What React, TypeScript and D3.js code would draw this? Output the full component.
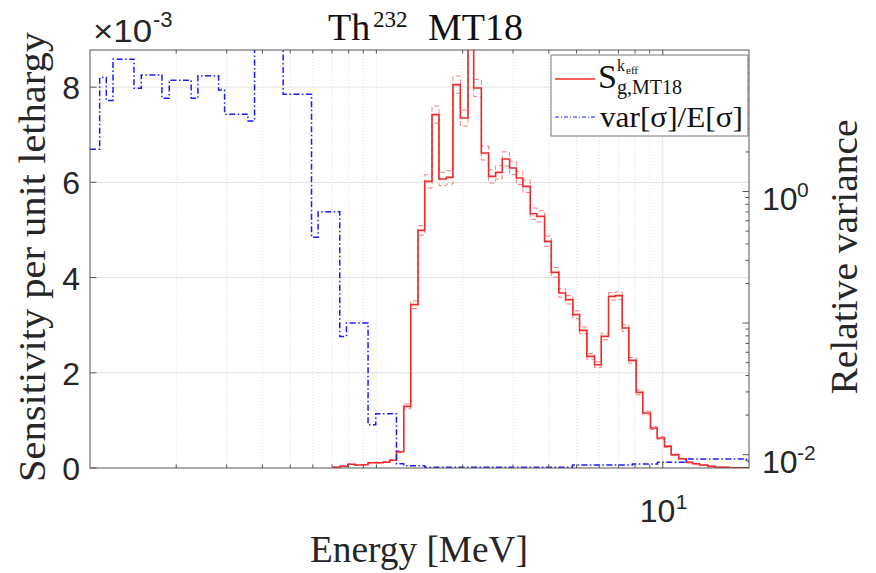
import React from 'react';
import * as d3 from 'd3';

const W = 876;
const H = 573;
const PL = 90, PT = 50, PR = 749, PB = 468;

// Axis domains
const energyDomain = [0.1, 20];            // MeV
const sensDomain = [0, 8.78];              // ×10^-3
const varDomain = [0.00792, 11.9];         // relative variance (log)

const sensTicks = [0, 2, 4, 6, 8];
const energyMajorTicks = [10];
const energyMinorTicks = [0.2, 0.3, 0.4, 0.5, 0.6, 0.7, 0.8, 0.9, 1, 2, 3, 4, 5, 6, 7, 8, 9];
const varLabelTicks = [0.01, 1];
const varLabelExps = ['-2', '0'];
const varMajorTicks = [0.01, 0.1, 1, 10];

// Sensitivity per unit lethargy (×10^-3), group edges in MeV
const sensEdges = [0.7044, 0.7449, 0.7944, 0.8403, 0.8889, 0.9351, 0.9948, 1.055, 1.113, 1.175,
  1.246, 1.318, 1.397, 1.475, 1.564, 1.654, 1.755, 1.851, 1.964, 2.088,
  2.186, 2.325, 2.465, 2.608, 2.752, 2.918, 3.080, 3.247, 3.446, 3.634,
  3.866, 4.080, 4.337, 4.577, 4.854, 5.122, 5.431, 5.777, 6.097, 6.464,
  6.839, 7.217, 7.610, 8.075, 8.514, 9.061, 9.561, 10.14, 10.70, 11.37,
  12.07, 12.72, 13.43, 14.36, 15.27, 17.09, 20];
const sensValues = [0.017, 0.038, 0.080, 0.063, 0.069, 0.111, 0.111, 0.122, 0.164, 0.342,
  1.294, 3.431, 4.992, 6.021, 7.422, 6.071, 6.105, 8.053, 7.353, 9.2,
  7.983, 6.618, 6.126, 6.210, 6.492, 6.303, 6.092, 5.916, 5.342, 5.286,
  4.761, 4.109, 3.676, 3.536, 3.221, 2.891, 2.345, 2.170, 2.765, 3.605,
  3.620, 2.941, 2.261, 1.588, 1.155, 0.840, 0.630, 0.454, 0.279, 0.195,
  0.118, 0.090, 0.063, 0.034, 0.017, 0.006];
const sensSigma = [0.004, 0.005, 0.006, 0.006, 0.006, 0.008, 0.008, 0.008, 0.01, 0.02,
  0.05, 0.08, 0.10, 0.14, 0.18, 0.14, 0.14, 0.18, 0.17, 0.2,
  0.18, 0.15, 0.14, 0.14, 0.15, 0.14, 0.14, 0.13, 0.12, 0.12,
  0.11, 0.10, 0.09, 0.09, 0.08, 0.07, 0.06, 0.06, 0.07, 0.08,
  0.08, 0.07, 0.06, 0.05, 0.04, 0.03, 0.03, 0.02, 0.015, 0.01,
  0.008, 0.006, 0.005, 0.004, 0.003, 0.002];

// Relative variance var[σ]/E[σ], group edges in MeV
const varEdges = [0.1, 0.1081, 0.1140, 0.1203, 0.1424, 0.1510, 0.1783, 0.1891, 0.2256, 0.2381,
  0.2812, 0.2951, 0.3559, 0.3755, 0.4725, 0.5935, 0.6258, 0.7449, 0.7860, 0.9351,
  0.9948, 1.175, 1.246, 1.475, 4.842, 7.840, 9.584, 12.10, 19.59, 20];
const varValues = [2.099, 7.34, 4.91, 10.13, 6.10, 7.70, 5.12, 7.02, 5.12, 7.57,
  5.92, 3.87, 3.44, 15, 5.49, 0.450, 0.701, 0.0792, 0.1001, 0.0169,
  0.0205, 0.00854, 0.00825, 0.00804, 0.00835, 0.00850, 0.00874, 0.00928, 0.00889];

const SERIF = '"Liberation Serif", "DejaVu Serif", serif';
const SANS = '"Liberation Sans", Arial, sans-serif';

function stairs(edges: number[], values: number[]): [number, number][] {
  const pts: [number, number][] = values.map((v, i) => [edges[i], v]);
  pts.push([edges[edges.length - 1], values[values.length - 1]]);
  return pts;
}

export default function App() {
  const x = d3.scaleLog().domain(energyDomain).range([PL, PR]);
  const yL = d3.scaleLinear().domain(sensDomain).range([PB, PT]);
  const yR = d3.scaleLog().domain(varDomain).range([PB, PT]);

  const lineL = d3.line<[number, number]>().x(d => x(d[0])).y(d => yL(d[1])).curve(d3.curveStepAfter);
  const lineR = d3.line<[number, number]>().x(d => x(d[0])).y(d => yR(d[1])).curve(d3.curveStepAfter);

  const sensPath = lineL(stairs(sensEdges, sensValues)) || '';
  const sensUp = lineL(stairs(sensEdges, sensValues.map((v, i) => v + sensSigma[i]))) || '';
  const sensDn = lineL(stairs(sensEdges, sensValues.map((v, i) => v - sensSigma[i]))) || '';
  const varPath = lineR(stairs(varEdges, varValues)) || '';

  const varMinor: number[] = [];
  for (let e = -3; e <= 1; e++) {
    for (let k = 2; k <= 9; k++) {
      const v = k * Math.pow(10, e);
      if (v > varDomain[0] && v < varDomain[1]) varMinor.push(v);
    }
  }

  const axisColor = '#555';
  const red = '#f02b2b';
  const blue = '#1a1aff';
  const tickFont = 32;

  return (
    <svg width={W} height={H} style={{ position: 'absolute', left: 0, top: 0, background: '#fff' }}>
      <defs>
        <clipPath id="plotclip">
          <rect x={PL} y={PT} width={PR - PL} height={PB - PT} />
        </clipPath>
      </defs>
      <rect x={0} y={0} width={W} height={H} fill="#fff" />

      {/* minor vertical grid */}
      {energyMinorTicks.map(t => (
        <line key={'gm' + t} x1={x(t)} x2={x(t)} y1={PT} y2={PB} stroke="#d9d9d9" strokeWidth={0.8} strokeDasharray="1,2" />
      ))}
      {/* major grid */}
      {energyMajorTicks.map(t => (
        <line key={'gM' + t} x1={x(t)} x2={x(t)} y1={PT} y2={PB} stroke="#e2e2e2" strokeWidth={1} />
      ))}
      {sensTicks.filter(t => t > 0).map(t => (
        <line key={'gy' + t} x1={PL} x2={PR} y1={yL(t)} y2={yL(t)} stroke="#e2e2e2" strokeWidth={1} />
      ))}

      {/* data */}
      <g clipPath="url(#plotclip)">
        <path d={sensUp} fill="none" stroke="#f37d7d" strokeWidth={1} strokeDasharray="5,3" />
        <path d={sensDn} fill="none" stroke="#f37d7d" strokeWidth={1} strokeDasharray="5,3" />
        <path d={sensPath} fill="none" stroke={red} strokeWidth={1.6} />
        <path d={varPath} fill="none" stroke={blue} strokeWidth={1.5} strokeDasharray="6,2.5,1.5,2.5" />
      </g>

      {/* axes box */}
      <rect x={PL} y={PT} width={PR - PL} height={PB - PT} fill="none" stroke={axisColor} strokeWidth={1} />

      {/* x ticks (bottom and top) */}
      {energyMinorTicks.map(t => (
        <g key={'xt' + t}>
          <line x1={x(t)} x2={x(t)} y1={PB} y2={PB - 3.5} stroke={axisColor} />
          <line x1={x(t)} x2={x(t)} y1={PT} y2={PT + 3.5} stroke={axisColor} />
        </g>
      ))}
      {energyMajorTicks.map(t => (
        <g key={'xT' + t}>
          <line x1={x(t)} x2={x(t)} y1={PB} y2={PB - 6.5} stroke={axisColor} />
          <line x1={x(t)} x2={x(t)} y1={PT} y2={PT + 6.5} stroke={axisColor} />
          <text x={x(t) - 23} y={522} fontFamily={SANS} fontSize={tickFont} fill="#262626">10</text>
          <text x={x(t) + 13} y={509} fontFamily={SANS} fontSize={21} fill="#262626">1</text>
        </g>
      ))}

      {/* left ticks */}
      {sensTicks.map(t => (
        <g key={'yl' + t}>
          <line x1={PL} x2={PL + 6.5} y1={yL(t)} y2={yL(t)} stroke={axisColor} />
          <text x={80} y={yL(t) + 12} textAnchor="end" fontFamily={SANS} fontSize={tickFont} fill="#262626">{String(t)}</text>
        </g>
      ))}
      <text x={93} y={42} fontFamily={SANS} fontSize={31} fill="#262626" textLength={59} lengthAdjust="spacingAndGlyphs">×10</text>
      <text x={153} y={27} fontFamily={SANS} fontSize={22} fill="#262626">-3</text>

      {/* right ticks */}
      {varMinor.map(t => (
        <line key={'yrm' + t} x1={PR} x2={PR - 3.5} y1={yR(t)} y2={yR(t)} stroke={axisColor} />
      ))}
      {varMajorTicks.filter(t => t > varDomain[0] && t < varDomain[1]).map(t => (
        <line key={'yrM' + t} x1={PR} x2={PR - 6.5} y1={yR(t)} y2={yR(t)} stroke={axisColor} />
      ))}
      {varLabelTicks.map((t, i) => (
        <g key={'yrl' + t}>
          <text x={762} y={yR(t) + 18} fontFamily={SANS} fontSize={tickFont} fill="#262626">10</text>
          <text x={797} y={yR(t) + 5} fontFamily={SANS} fontSize={21} fill="#262626">{varLabelExps[i]}</text>
        </g>
      ))}

      {/* title */}
      <text x={328} y={40} fontFamily={SERIF} fontSize={38} fill="#111">Th</text>
      <text x={373} y={27} fontFamily={SERIF} fontSize={23} fill="#111">232</text>
      <text x={428} y={40} fontFamily={SERIF} fontSize={38} fill="#111">MT18</text>

      {/* axis labels */}
      <text x={310} y={562} fontFamily={SERIF} fontSize={38} fill="#262626" textLength={218} lengthAdjust="spacingAndGlyphs">Energy [MeV]</text>
      <text transform="translate(45,257) rotate(-90)" textAnchor="middle" fontFamily={SERIF} fontSize={38} fill="#262626" textLength={450} lengthAdjust="spacingAndGlyphs">Sensitivity per unit lethargy</text>
      <text transform="translate(857,257) rotate(-90)" textAnchor="middle" fontFamily={SERIF} fontSize={38} fill="#262626" textLength={275} lengthAdjust="spacingAndGlyphs">Relative variance</text>

      {/* legend */}
      <rect x={551} y={55} width={197} height={81} fill="#fff" stroke="#777" strokeWidth={1} />
      <line x1={555} x2={595} y1={79} y2={79} stroke={red} strokeWidth={1.6} />
      <text x={598} y={88} fontFamily={SERIF} fontSize={34} fill="#111">S</text>
      <text x={617} y={71} fontFamily={SERIF} fontSize={16} fill="#111">k</text>
      <text x={626} y={74} fontFamily={SERIF} fontSize={11} fill="#111">eff</text>
      <text x={617} y={94} fontFamily={SERIF} fontSize={20} fill="#111">g,MT18</text>
      <line x1={555} x2={595} y1={117} y2={117} stroke={blue} strokeWidth={1.2} strokeDasharray="4,2,1,2" />
      <text x={600} y={127} fontFamily={SERIF} fontSize={30} fill="#111" textLength={143} lengthAdjust="spacingAndGlyphs">var[σ]/E[σ]</text>
    </svg>
  );
}
